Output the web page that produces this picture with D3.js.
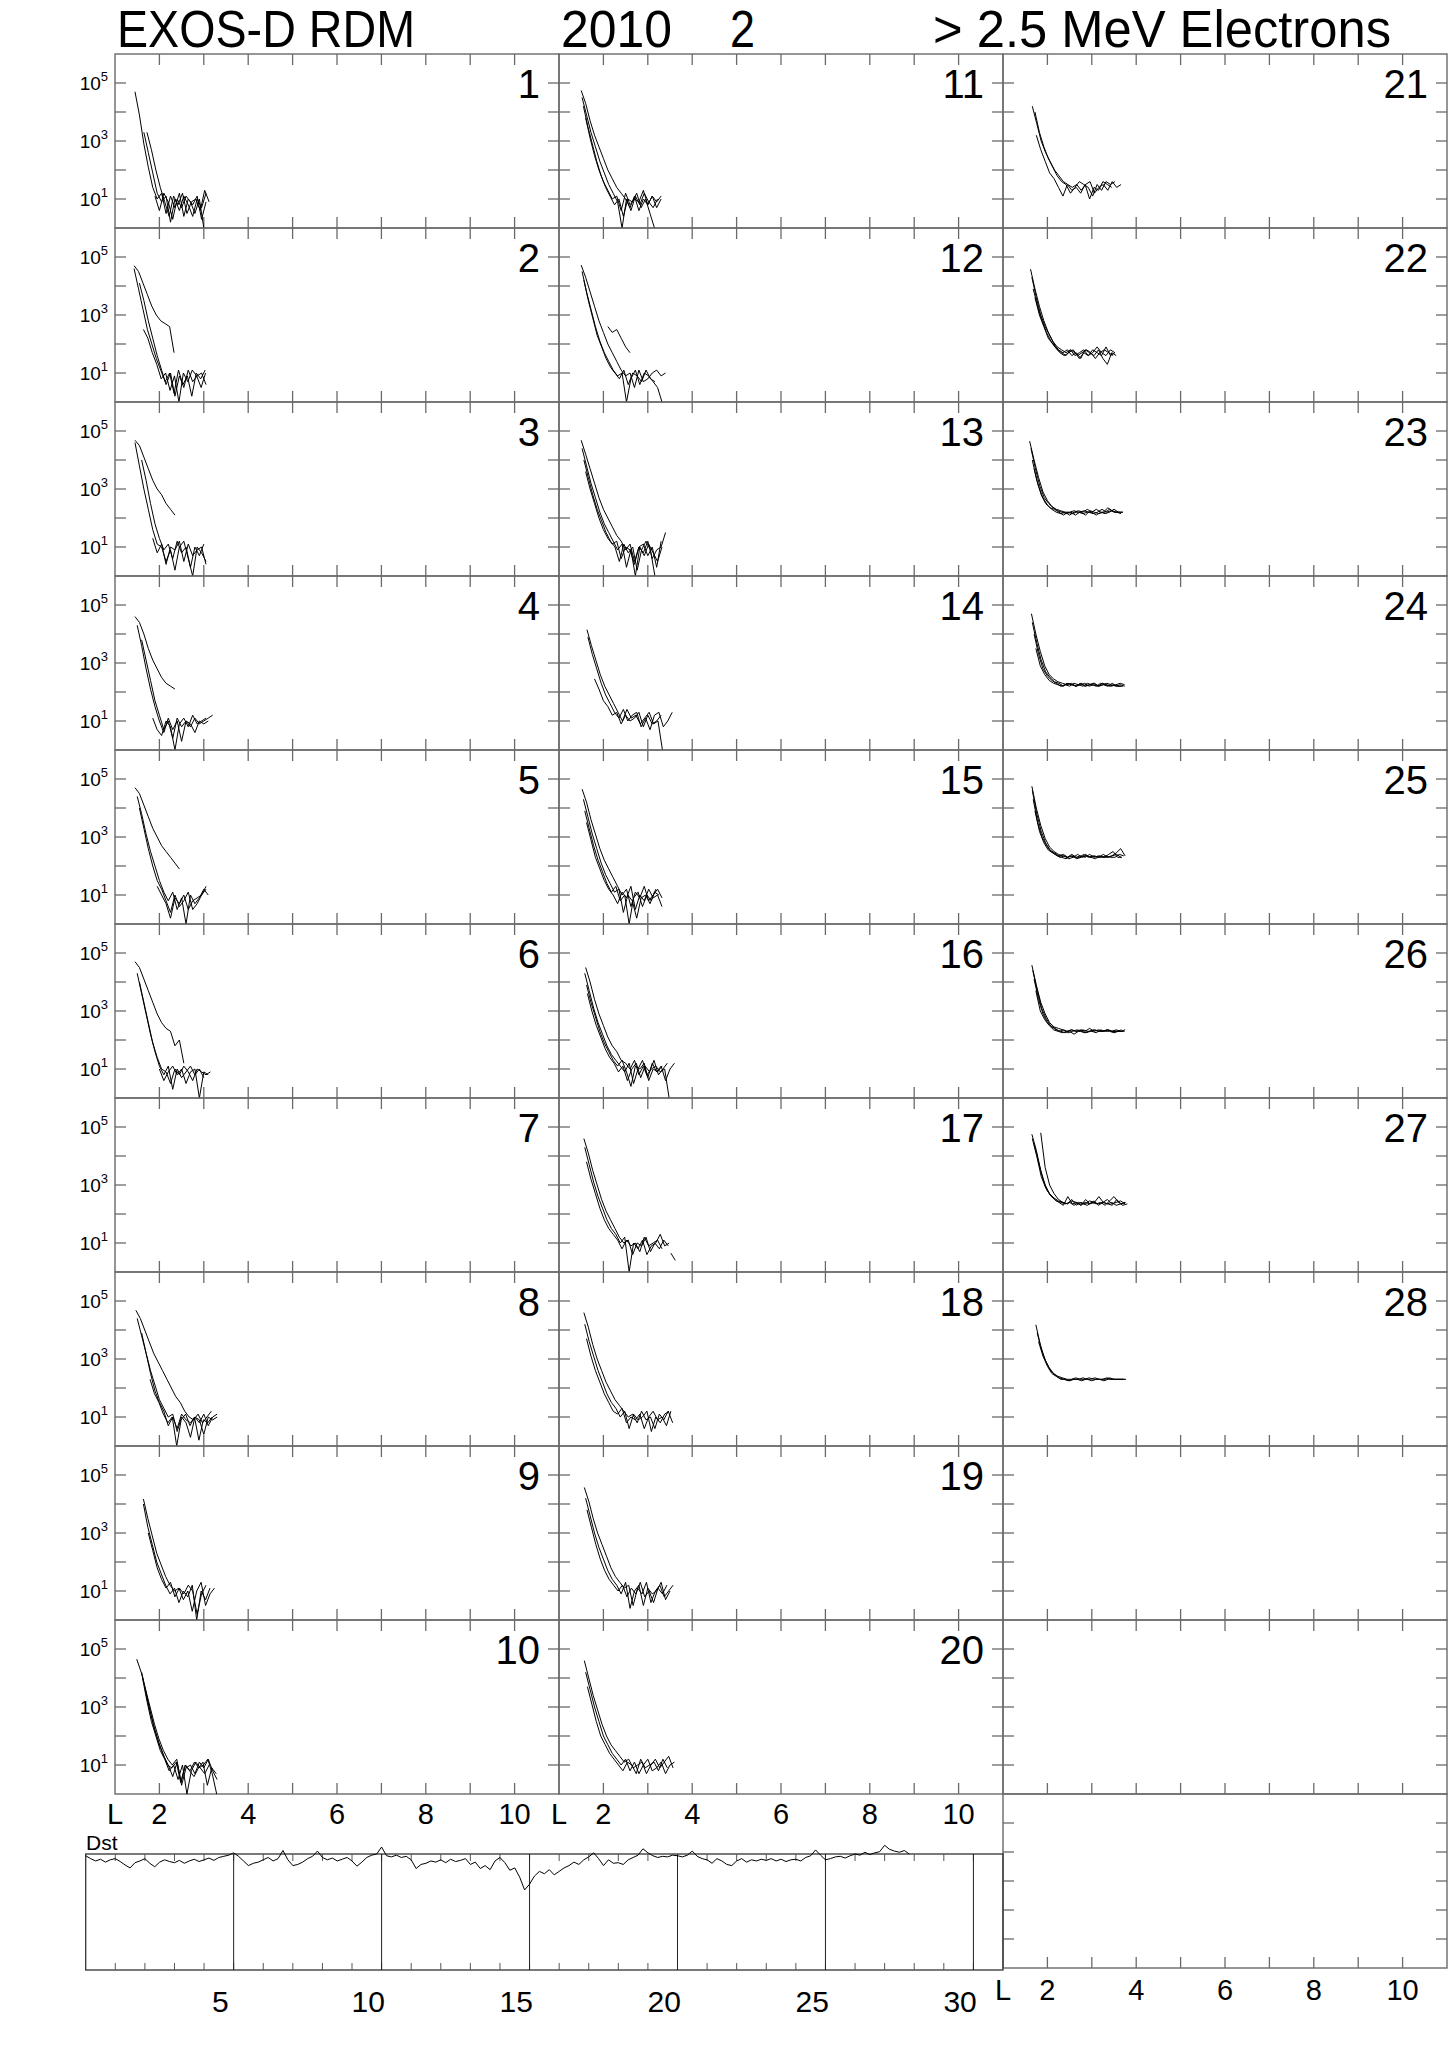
<!DOCTYPE html>
<html><head><meta charset="utf-8">
<script src="https://cdn.jsdelivr.net/npm/d3@7"></script>
<style>body{margin:0;background:#fff}svg{display:block}text{font-family:"Liberation Sans","Open Sans",sans-serif;fill:#000}</style>
</head><body><svg id="c" width="1450" height="2046"></svg>
<script>
// ---- DATA: each curve = [start L, log10 flux at L steps of 0.1 ...] ----
const day01=[[1.45,4.7,3.9,2.9,2.1,1.4,1.0,1.2,0.5,1.1,0.7,1.2,0.4,1.0,0.8,1.1,0.3,0.9],[1.65,3.3,2.6,1.9,1.2,0.9,1.1,0.2,1.0,0.6,1.1,0.8,0.4,1.0,0.7,1.2],[1.72,3.3,2.7,2.0,1.4,0.9,0.4,1.1,0.8,1.2,0.5,0.9,1.0,0.6,1.3,0.9],[1.9,1.1,0.6,1.2,0.9,0.3,1.0,0.7,1.1,0.9,0.5,1.0,0.0]];
const day02=[[1.43,4.7,4.5,4.1,3.7,3.3,3.0,2.8,2.7,2.6,1.7],[1.43,4.6,3.9,3.2,2.5,2.0,1.5,1.1,0.7,1.0,0.3,1.1,0.6,0.9,0.2,1.0,0.8,1.1],[1.64,2.5,2.2,1.7,1.3,0.8,1.0,0.4,0.9,0.0,1.0,0.7,1.1,0.9,0.5,1.0],[1.55,4.1,3.5,2.8,2.2,1.6,1.1,0.6,1.0,0.2,0.9,0.5,1.1,0.7,0.9,1.0,0.6]];
const day03=[[1.45,4.68,4.5,4.1,3.7,3.3,3.0,2.8,2.5,2.3,2.1],[1.6,4.0,3.3,2.5,1.8,1.3,0.9,1.1,0.6,1.2,0.8,1.0,0.3,1.0,0.7,1.1],[1.45,4.6,3.8,3.0,2.3,1.6,1.1,1.0,0.5,0.9,0.2,1.0,1.2,0.6,0.0,1.0,0.8,0.5],[1.85,1.3,0.8,1.1,0.4,1.0,0.9,1.2,0.5,1.1,0.7,0.9,1.0,0.4]];
const day04=[[1.45,4.6,4.4,4.0,3.5,3.1,2.8,2.5,2.3,2.2,2.1],[1.5,4.3,3.6,2.8,2.1,1.5,1.0,0.6,1.1,0.7,1.0,0.3,1.0,0.8,1.1,0.9,1.0,1.1,1.2],[1.6,3.8,3.1,2.4,1.7,1.2,0.7,1.0,0.4,1.1,0.8,1.0,0.9,0.6,1.0,0.9,1.0],[1.85,1.1,0.7,0.5,1.0,0.8,0.0,0.9,1.1,0.8,1.2,0.9,1.0,1.1]];
const day05=[[1.45,4.7,4.5,4.1,3.7,3.3,3.0,2.7,2.5,2.3,2.1,1.9],[1.5,4.4,3.8,3.1,2.5,2.0,1.5,1.1,0.8,1.1,0.5,0.9,0.0,1.0,0.7,0.9,1.2,1.0],[1.55,4.0,3.3,2.6,2.0,1.5,1.2,0.8,0.4,1.0,0.6,0.8,1.1,0.5,0.7,1.0,1.3],[1.95,1.3,1.0,0.7,0.2,0.9,0.7,1.0,0.5,0.8,0.9,1.0,1.2]];
const day06=[[1.45,4.7,4.5,4.1,3.7,3.3,2.9,2.6,2.4,2.3,1.8,2.0,1.2],[1.5,4.3,3.6,2.9,2.2,1.6,1.1,0.8,1.1,0.3,1.0,0.7,0.9,1.1,0.8,1.0,0.7],[1.55,4.0,3.3,2.6,1.9,1.4,1.0,0.9,0.5,1.0,0.8,1.1,0.9,0.6,1.0,0.9,0.8,0.9],[2.0,1.0,0.6,0.9,1.1,0.8,1.0,0.5,0.9,1.0,0.0,0.9,0.8]];
const day07=[];
const day08=[[1.47,4.68,4.4,4.0,3.6,3.2,2.9,2.6,2.3,2.0,1.7,1.5,1.2,1.0,0.9,1.1,0.8,1.0,1.2],[1.5,4.4,3.8,3.2,2.6,2.1,1.6,1.3,1.0,1.1,0.5,1.0,0.8,0.3,1.0,0.8,1.1,0.7,1.0,1.1],[1.79,2.3,1.8,1.5,1.1,0.8,1.0,0.0,0.9,1.1,0.7,1.0,0.2,0.9,0.8,1.0],[1.6,3.9,3.2,2.5,1.9,1.5,1.2,0.7,1.0,0.6,1.1,0.9,0.8,1.0,0.9,0.4,1.0,0.9,1.0]];
const day09=[[1.64,4.17,3.5,2.9,2.3,1.9,1.5,1.2,1.0,1.1,0.7,1.0,0.3,1.0,1.3,0.5,0.9,1.1],[1.64,4.0,3.2,2.6,2.0,1.6,1.2,0.9,1.1,0.6,1.0,0.8,1.2,0.0,1.0,0.7,1.1],[1.75,3.0,2.4,1.8,1.4,1.1,1.3,0.8,1.1,0.9,1.2,1.0,0.2,0.9,1.2]];
const day10=[[1.49,4.65,4.2,3.6,3.0,2.4,1.9,1.5,1.2,1.0,1.2,0.4,1.0,0.8,1.1,0.9,1.0,1.2,0.7,0.0],[1.6,4.2,3.5,2.8,2.2,1.7,1.3,1.0,0.6,1.1,0.3,0.9,1.0,0.7,1.1,0.9,1.2,0.8,0.5],[1.62,4.0,3.2,2.5,2.0,1.5,1.2,0.8,1.0,0.5,1.0,0.0,0.8,1.1,0.9,0.7,1.0],[1.68,3.6,2.9,2.3,1.8,1.4,1.0,0.9,1.1,0.4,1.0,0.8,0.6,0.9,1.1,0.3,0.9,0.7]];
const day11=[[1.5,4.74,4.3,3.7,3.2,2.8,2.4,2.0,1.7,1.4,1.2,1.0,0.7,1.1,0.6,1.0,0.8,1.1,0.7,1.0],[1.52,4.5,3.9,3.3,2.8,2.3,1.9,1.5,1.2,0.9,0.0,1.0,0.6,1.1,0.8,1.2,0.9,0.7,1.0],[1.55,4.2,3.5,2.9,2.3,1.8,1.4,1.1,0.8,1.0,0.4,1.0,0.9,1.2,0.7,1.0,0.5,0.0],[1.6,3.8,3.1,2.5,2.0,1.6,1.3,1.0,1.1,0.6,1.2,0.8,1.0,0.9,1.3,0.8,1.1,0.9,1.1]];
const day12=[[1.5,4.72,4.3,3.8,3.3,2.8,2.4,2.0,1.7,1.4,1.1,0.9,1.0,0.5,1.1,0.7,0.8,1.0,1.1,0.9,1.0],[2.1,2.6,2.4,2.5,2.2,1.9,1.7],[1.52,4.5,3.8,3.2,2.6,2.1,1.7,1.4,1.1,0.9,1.0,0.0,0.8,1.1,0.6,1.0,0.9,0.7,0.5,0.0],[1.56,4.2,3.5,2.9,2.3,1.9,1.5,1.2,1.0,0.8,1.1,0.6,1.0,0.9,0.7,1.1,0.8,0.7]];
const day13=[[1.5,4.68,4.2,3.7,3.2,2.7,2.3,2.0,1.7,1.4,1.2,0.9,1.1,0.5,1.0,0.8,1.2,0.6,0.9,1.0,1.5],[1.52,4.4,3.8,3.2,2.7,2.2,1.8,1.5,1.2,0.9,1.1,0.3,0.9,0.0,1.0,0.7,1.1,0.8,0.5,1.0],[1.56,4.0,3.4,2.8,2.3,1.9,1.5,1.2,1.0,0.5,1.1,0.8,1.0,0.2,0.9,1.2,0.9,0.0],[1.6,3.6,3.0,2.5,2.0,1.6,1.3,1.1,1.2,0.6,1.0,0.9,0.4,1.0,1.1,0.7,1.0,0.3,1.2]];
const day14=[[1.63,4.15,3.6,3.1,2.6,2.2,1.9,1.6,1.3,1.0,1.4,1.1,1.2,0.9,1.1,1.3,0.9,1.0,0.0],[1.65,3.9,3.3,2.8,2.3,1.9,1.6,1.3,1.1,1.4,1.0,1.2,1.3,0.8,1.1,0.7,1.2,1.3,0.8,1.0,1.3],[1.8,2.45,2.1,1.7,1.5,1.2,1.3,0.9,1.2,1.0,1.1,1.3,0.8,1.2,0.9,1.0,1.2]];
const day15=[[1.52,4.65,4.2,3.6,3.1,2.6,2.2,1.9,1.6,1.3,1.0,1.2,0.6,1.1,0.9,1.3,0.8,1.0,1.2,0.9],[1.55,4.3,3.7,3.1,2.6,2.1,1.7,1.4,1.1,1.2,0.4,1.0,0.8,0.2,0.9,1.0,0.7,1.1,1.0],[1.58,3.9,3.3,2.7,2.2,1.8,1.4,1.1,1.3,0.8,1.0,0.0,0.9,1.1,0.6,1.0,0.8,1.2],[1.62,3.5,2.9,2.3,1.9,1.5,1.2,1.0,0.7,1.1,0.9,1.3,0.5,1.0,0.8,1.2,0.9,1.0,0.6]];
const day16=[[1.6,4.5,4.0,3.4,2.9,2.5,2.1,1.8,1.6,1.3,1.2,1.0,1.3,0.8,1.1,0.7,1.2,0.9,1.1,0.6,1.0,1.2],[1.58,4.3,3.7,3.1,2.6,2.2,1.8,1.5,1.3,1.1,0.9,1.2,0.5,1.0,1.3,0.8,1.0,1.1,0.9,1.0,0.0],[1.62,3.9,3.3,2.8,2.3,1.9,1.6,1.3,1.1,1.3,0.9,0.4,1.1,1.0,1.2,0.6,1.0,0.9,1.1],[1.64,3.6,3.0,2.5,2.1,1.7,1.4,1.2,0.9,1.1,0.6,1.0,1.2,0.7,1.1,0.9,1.3,0.8,1.0,1.2]];
const day17=[[1.56,4.6,4.1,3.5,3.0,2.5,2.1,1.8,1.5,1.2,1.0,1.1,0.6,1.0,0.9,1.2,0.7,1.0,0.8,1.1,0.9],[1.58,4.3,3.7,3.1,2.6,2.2,1.8,1.5,1.3,1.0,1.2,0.0,1.0,0.8,1.1,0.6,0.9,1.0,1.3,0.9,1.0],[1.62,3.8,3.2,2.7,2.2,1.8,1.5,1.3,1.1,0.8,1.1,0.9,1.0,0.7,1.2,0.9,1.0,1.1,0.8],[3.52,0.65,0.4]];
const day18=[[1.56,4.6,4.1,3.5,3.0,2.6,2.2,1.9,1.6,1.4,1.2,1.0,1.1,0.8,1.2,0.9,1.0,0.6,1.1,0.9,1.2,0.8],[1.58,4.2,3.6,3.1,2.6,2.2,1.8,1.5,1.3,1.0,1.2,0.6,1.1,0.9,1.0,1.2,0.5,1.0,0.8,1.1,1.2],[1.62,3.7,3.1,2.6,2.2,1.8,1.5,1.2,1.1,1.3,0.8,1.0,0.9,1.1,0.6,1.0,1.2,0.9,1.0,0.7,1.2]];
const day19=[[1.57,4.57,4.1,3.5,3.0,2.6,2.2,1.8,1.5,1.3,1.1,1.2,0.5,1.1,0.9,1.3,0.6,1.0,1.2,0.8,1.0,1.2],[1.6,4.2,3.6,3.0,2.5,2.1,1.7,1.4,1.2,0.9,1.3,0.4,1.0,1.2,0.5,1.1,0.9,1.0,1.3,0.7,1.0],[1.63,3.8,3.2,2.6,2.1,1.7,1.4,1.2,1.0,1.2,0.8,1.1,0.9,1.3,0.8,1.0,0.6,1.1,0.9,1.2]];
const day20=[[1.57,4.6,4.0,3.4,2.9,2.4,2.0,1.7,1.5,1.3,1.1,1.2,0.9,1.0,1.1,0.7,1.0,1.2,0.9,1.1,1.3,0.9],[1.6,4.2,3.6,3.0,2.5,2.0,1.7,1.4,1.2,1.0,1.2,0.8,1.1,0.7,1.0,1.2,0.8,0.9,1.1,0.7,1.0,1.1],[1.64,3.7,3.1,2.5,2.0,1.7,1.4,1.2,1.0,0.8,1.1,1.0,0.7,1.2,0.9,1.0,1.1,0.8,1.2,0.9]];
const day21=[[1.66,4.2,3.6,3.0,2.6,2.3,2.0,1.8,1.6,1.5,1.4,1.5,1.3,1.5,1.6,1.2,1.4,1.5,1.3,1.6,1.4,1.5],[1.72,4.0,3.3,2.8,2.4,2.1,1.8,1.6,1.5,1.2,1.4,1.6,1.5,1.4,1.1,1.5,1.3,1.6,1.5,1.6],[1.75,3.2,2.7,2.3,1.9,1.7,1.4,1.1,1.5,1.3,1.4,1.2,1.5,1.0,1.4,1.3,1.6,1.5,1.4]];
const day22=[[1.62,4.58,3.9,3.3,2.8,2.4,2.1,1.9,1.8,1.7,1.8,1.6,1.7,1.8,1.6,1.7,1.9,1.7,1.6,1.8,1.7],[1.65,4.3,3.6,3.0,2.6,2.3,2.0,1.8,1.7,1.8,1.6,1.7,1.5,1.8,1.7,1.6,1.8,1.5,1.3,1.7,1.6],[1.68,3.9,3.3,2.8,2.4,2.1,1.9,1.7,1.6,1.7,1.8,1.6,1.7,1.8,1.7,1.5,1.7,1.8,1.7,1.6],[1.72,3.6,3.0,2.6,2.2,2.0,1.8,1.7,1.6,1.8,1.7,1.5,1.7,1.6,1.8,1.7,1.6,1.9,1.6,1.7]];
const day23=[[1.6,4.65,4.0,3.4,2.9,2.6,2.4,2.3,2.25,2.2,2.2,2.25,2.2,2.15,2.2,2.2,2.3,2.2,2.15,2.2,2.3,2.2,2.2],[1.63,4.4,3.7,3.1,2.7,2.5,2.35,2.25,2.2,2.15,2.2,2.1,2.2,2.25,2.2,2.15,2.2,2.3,2.2,2.25,2.2,2.2],[1.66,4.0,3.3,2.8,2.5,2.35,2.3,2.2,2.1,2.2,2.15,2.2,2.2,2.1,2.25,2.2,2.15,2.2,2.35,2.25,2.2,2.15],[1.7,3.7,3.1,2.7,2.45,2.3,2.2,2.15,2.2,2.1,2.2,2.25,2.2,2.3,2.2,2.1,2.2,2.2,2.3,2.2,2.2,2.2]];
const day24=[[1.64,4.7,4.0,3.4,2.9,2.6,2.45,2.35,2.3,2.25,2.3,2.2,2.25,2.3,2.2,2.25,2.2,2.3,2.25,2.2,2.25,2.3,2.25],[1.66,4.4,3.7,3.1,2.7,2.5,2.35,2.3,2.2,2.3,2.25,2.2,2.3,2.2,2.25,2.3,2.2,2.25,2.2,2.3,2.2,2.2],[1.7,4.0,3.3,2.8,2.55,2.4,2.3,2.2,2.25,2.2,2.3,2.25,2.2,2.3,2.25,2.2,2.3,2.25,2.2,2.25,2.2,2.2],[1.74,3.5,2.9,2.6,2.4,2.3,2.25,2.2,2.3,2.25,2.2,2.3,2.2,2.25,2.3,2.2,2.25,2.3,2.25,2.2,2.25,2.2]];
const day25=[[1.65,4.75,4.0,3.4,2.95,2.65,2.5,2.4,2.35,2.3,2.4,2.3,2.35,2.3,2.4,2.3,2.35,2.3,2.3,2.35,2.45,2.6,2.35],[1.66,4.6,3.8,3.2,2.8,2.55,2.45,2.35,2.4,2.3,2.35,2.25,2.3,2.4,2.3,2.35,2.3,2.4,2.3,2.35,2.4,2.3],[1.68,4.3,3.5,3.0,2.7,2.5,2.4,2.3,2.35,2.25,2.3,2.4,2.3,2.35,2.3,2.25,2.35,2.3,2.4,2.5,2.3,2.3],[1.72,3.9,3.2,2.8,2.55,2.45,2.35,2.3,2.25,2.35,2.3,2.3,2.4,2.3,2.35,2.3,2.3,2.35,2.3,2.3,2.4,2.35]];
const day26=[[1.65,4.58,3.9,3.3,2.9,2.6,2.45,2.4,2.35,2.3,2.35,2.3,2.35,2.3,2.4,2.3,2.35,2.3,2.35,2.3,2.35,2.3,2.35],[1.67,4.4,3.7,3.1,2.75,2.5,2.4,2.3,2.35,2.25,2.3,2.35,2.3,2.25,2.3,2.35,2.3,2.3,2.35,2.3,2.3,2.35],[1.7,4.1,3.4,2.9,2.6,2.45,2.35,2.3,2.25,2.3,2.2,2.3,2.35,2.3,2.3,2.25,2.35,2.3,2.3,2.25,2.3,2.3],[1.74,3.7,3.0,2.7,2.5,2.35,2.3,2.25,2.3,2.35,2.3,2.3,2.25,2.3,2.35,2.3,2.3,2.35,2.3,2.3,2.3,2.3]];
const day27=[[1.65,4.75,4.2,3.5,3.0,2.7,2.55,2.45,2.4,2.35,2.5,2.3,2.4,2.35,2.45,2.4,2.35,2.4,2.5,2.35,2.4,2.45,2.35],[1.66,4.6,4.0,3.3,2.9,2.65,2.5,2.4,2.3,2.6,2.35,2.4,2.3,2.5,2.35,2.4,2.6,2.4,2.35,2.3,2.5,2.35,2.4],[1.7,4.4,3.8,3.2,2.8,2.6,2.45,2.4,2.35,2.4,2.3,2.4,2.35,2.3,2.4,2.35,2.4,2.3,2.45,2.6,2.4,2.3,2.35],[1.85,4.8,3.6,3.0,2.7,2.5,2.4,2.35,2.45,2.4,2.3,2.4,2.35,2.45,2.3,2.4,2.35,2.4,2.3,2.35,2.4]];
const day28=[[1.74,4.18,3.5,3.0,2.7,2.5,2.4,2.35,2.3,2.3,2.35,2.3,2.3,2.35,2.3,2.3,2.3,2.35,2.3,2.3,2.3,2.3],[1.77,3.9,3.3,2.9,2.6,2.45,2.35,2.3,2.25,2.3,2.3,2.25,2.3,2.3,2.35,2.3,2.25,2.3,2.3,2.3,2.3,2.3],[1.8,3.6,3.1,2.75,2.5,2.4,2.3,2.3,2.25,2.3,2.3,2.35,2.3,2.25,2.3,2.3,2.3,2.35,2.3,2.3,2.3]];
const fluxDays=[day01,day02,day03,day04,day05,day06,day07,day08,day09,day10,day11,day12,day13,day14,day15,day16,day17,day18,day19,day20,day21,day22,day23,day24,day25,day26,day27,day28];
const lStep=0.1;
// Dst (nT), 6 values per day, Feb 1..28
const dstValues=[-3,-8,-12,-9,-14,-10, -8,-13,-19,-24,-15,-12, -8,-16,-22,-14,-10,-13, -15,-11,-16,-12,-9,-13, -10,-7,-11,-6,-4,-2,
 2,-4,-12,-20,-16,-14, -10,-6,-12,-8,6,-10, -20,-18,-14,-8,-4,5, -6,-10,-7,-12,-9,-6, -12,-21,-14,-6,-2,0,
 12,-3,-5,-2,-6,-4, -10,-25,-18,-16,-12,-14, -10,-15,-9,-13,-11,-8, -18,-14,-25,-20,-27,-12, -6,-15,-28,-24,-40,-62,
 -52,-38,-30,-34,-27,-36, -30,-24,-20,-14,-18,-10, -5,2,-8,-20,-10,-16, -15,-18,-10,-6,-2,9, 2,-3,-6,-4,-5,-2,
 -3,-5,-2,5,-4,-8, -10,-16,-8,-12,-18,-20, -12,-8,-14,-10,-12,-9, -11,-8,-12,-9,-13,-10, -9,-12,-6,-3,7,-2,
 -10,-8,-5,-4,-7,-3, 0,-2,3,-1,2,4, 15,8,5,3,6,0];
const dstPerDay=6;
const lTicks=[2,3,4,5,6,7,8,9,10];
const lLabels=[2,4,6,8,10];
const yTickExps=[1,2,3,4,5];
const yLabelExps=[1,3,5];
const dayTicks=[5,10,15,20,25,30];
const titleParts=["EXOS-D RDM","2010","2","> 2.5  MeV Electrons"];

// ---- LAYOUT ----
const svg=d3.select("#c");
const colX=[115,559,1003], colW=444, top0=54, rowH=174, nRows=10;
const frameC="#6a6a6a";

// title
const titleX=[[117,298],[561,111],[730,25],[933,458]];
titleParts.forEach((t,i)=>{
  svg.append("text").attr("x",titleX[i][0]).attr("y",47).attr("font-size",51)
    .attr("textLength",titleX[i][1]).attr("lengthAdjust","spacingAndGlyphs").text(t);
});

const defs=svg.append("defs");
function panel(x0,y0,opts){
  const x=d3.scaleLinear().domain([1,11]).range([x0,x0+colW]);
  const y=d3.scaleLog().domain([1,1e6]).range([y0+rowH,y0]);
  const g=svg.append("g");
  g.append("rect").attr("x",x0).attr("y",y0).attr("width",colW).attr("height",rowH)
    .attr("fill","none").attr("stroke",frameC).attr("stroke-width",1.4);
  const tk=g.append("g").attr("stroke",frameC).attr("stroke-width",1.3);
  lTicks.forEach(L=>{
    if(opts.topTicks!==false) tk.append("line").attr("x1",x(L)).attr("x2",x(L)).attr("y1",y0).attr("y2",y0+11);
    tk.append("line").attr("x1",x(L)).attr("x2",x(L)).attr("y1",y0+rowH-11).attr("y2",y0+rowH);
  });
  yTickExps.forEach(e=>{
    const yy=y(Math.pow(10,e));
    tk.append("line").attr("x1",x0).attr("x2",x0+11).attr("y1",yy).attr("y2",yy);
    tk.append("line").attr("x1",x0+colW-11).attr("x2",x0+colW).attr("y1",yy).attr("y2",yy);
  });
  return {x,y,g};
}

for(let c=0;c<3;c++){
  for(let r=0;r<nRows;r++){
    const day=c*10+r+1;
    const x0=colX[c], y0=top0+r*rowH;
    const p=panel(x0,y0,{});
    if(c===0){
      yLabelExps.forEach(e=>{
        const t=svg.append("text").attr("x",x0-7).attr("y",p.y(Math.pow(10,e))+7)
          .attr("text-anchor","end").attr("font-size",19);
        t.append("tspan").text("10");
        t.append("tspan").attr("dy",-9).attr("font-size",13).text(e);
      });
    }
    if(day<=fluxDays.length){
      svg.append("text").attr("x",x0+colW-19).attr("y",y0+44).attr("text-anchor","end")
        .attr("font-size",40).text(day);
      const cid="clip"+day;
      defs.append("clipPath").attr("id",cid).append("rect")
        .attr("x",x0).attr("y",y0).attr("width",colW).attr("height",rowH);
      const line=d3.line().x(d=>p.x(d[0])).y(d=>p.y(Math.pow(10,d[1])));
      const cg=svg.append("g").attr("clip-path",`url(#${cid})`);
      fluxDays[day-1].forEach(cv=>{
        const L0=cv[0];
        const pts=cv.slice(1).map((v,i)=>[L0+i*lStep,v]);
        cg.append("path").attr("d",line(pts)).attr("fill","none")
          .attr("stroke","#000").attr("stroke-width",1);
      });
    }
  }
}

// L axis labels below left and middle columns
function lAxisLabels(x0,yb){
  const x=d3.scaleLinear().domain([1,11]).range([x0,x0+colW]);
  svg.append("text").attr("x",x(1)).attr("y",yb).attr("text-anchor","middle").attr("font-size",29).text("L");
  lLabels.forEach(L=>svg.append("text").attr("x",x(L)).attr("y",yb).attr("text-anchor","middle")
    .attr("font-size",29).text(L));
}
const rowsBottom=top0+nRows*rowH;
lAxisLabels(colX[0],rowsBottom+30);
lAxisLabels(colX[1],rowsBottom+30);

// bottom right empty panel
panel(colX[2],rowsBottom,{topTicks:false});
lAxisLabels(colX[2],rowsBottom+206);

// Dst panel
const dX=d3.scaleLinear().domain([0,31]).range([85.7,colX[2]]);
const dY=d3.scaleLinear().domain([0,-200]).range([1854,1970]);
const dg=svg.append("g");
dg.append("rect").attr("x",dX(0)).attr("y",dY(0)).attr("width",dX(31)-dX(0)).attr("height",dY(-200)-dY(0))
  .attr("fill","none").attr("stroke","#333").attr("stroke-width",1.3);
d3.range(1,31).forEach(d=>{
  dg.append("line").attr("x1",dX(d)).attr("x2",dX(d)).attr("y1",dY(-200)-7).attr("y2",dY(-200)).attr("stroke","#555");
  dg.append("line").attr("x1",dX(d)).attr("x2",dX(d)).attr("y1",dY(0)).attr("y2",dY(0)+7).attr("stroke","#555");
});
dayTicks.forEach(d=>{
  dg.append("line").attr("x1",dX(d)).attr("x2",dX(d)).attr("y1",dY(0)).attr("y2",dY(-200)).attr("stroke","#222").attr("stroke-width",1);
  svg.append("text").attr("x",dX(d-0.45)).attr("y",2012).attr("text-anchor","middle").attr("font-size",30).text(d);
});
const dstLine=d3.line().x((v,i)=>dX(i/dstPerDay)).y(v=>dY(v));
dg.append("path").attr("d",dstLine(dstValues)).attr("fill","none").attr("stroke","#000").attr("stroke-width",1);
svg.append("text").attr("x",86).attr("y",1850).attr("font-size",21).text("Dst");
</script></body></html>
